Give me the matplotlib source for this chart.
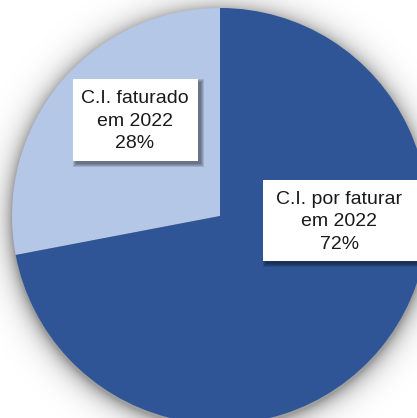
import numpy as np
import matplotlib
matplotlib.use("Agg")
import matplotlib.pyplot as plt
from matplotlib.patches import Rectangle

plt.rcParams['font.family'] = ['Liberation Sans', 'DejaVu Sans']

# share of C.I. billed vs. still to be billed (%)
labels = ["C.I. faturado\nem 2022", "C.I. por faturar\nem 2022"]
shares = [28, 72]
colors = ["#B4C7E7", "#2F5597"]

W, H = 417, 418
cx, cy, R = 220, 202, 208

fig = plt.figure(figsize=(W / 100, H / 100), dpi=100)
ax = fig.add_axes([0, 0, 1, 1])

# soft shadow around the pie
xx, yy = np.meshgrid(np.arange(W) + 0.5, np.arange(H) + 0.5)
d = np.hypot(xx - cx, yy - (cy - 3))
alpha = np.where(d > R, 0.38 * np.exp(-(d - R) / 10.0), 0.38)
shadow = np.zeros((H, W, 4))
shadow[..., 3] = alpha
ax.imshow(shadow, extent=(0, W, 0, H), origin='lower', zorder=0)

ax.pie(shares, colors=colors, startangle=90, counterclock=True,
       center=(cx, cy), radius=R, frame=True,
       wedgeprops=dict(linewidth=0, zorder=1))

# label boxes: (x0, y0, width, height) and text centre
boxes = [(73, H - 161, 125, 82), (263, H - 261, 160, 81)]
centres = [(135, H - 121), (339.5, H - 222)]
for lab, val, (x0, y0, bw, bh), (x, y) in zip(labels, shares, boxes, centres):
    # blurred drop shadow, built from a few stacked translucent rectangles
    for grow in (3, 2, 1, 0):
        ax.add_patch(Rectangle((x0 + 3 - grow, y0 - 3 - grow), bw + 2 * grow, bh + 2 * grow,
                               fc='black', ec='none', alpha=0.12, zorder=3))
    ax.add_patch(Rectangle((x0, y0), bw, bh, fc='white', ec='none', zorder=4))
    ax.text(x, y, f"{lab}\n{val}%", ha='center', va='center',
            fontsize=14, color='#1a1a1a', linespacing=1.45, zorder=5)

ax.set_xlim(0, W)
ax.set_ylim(0, H)
ax.set_aspect('equal')
ax.axis('off')

fig.savefig("out.png", dpi=100)
